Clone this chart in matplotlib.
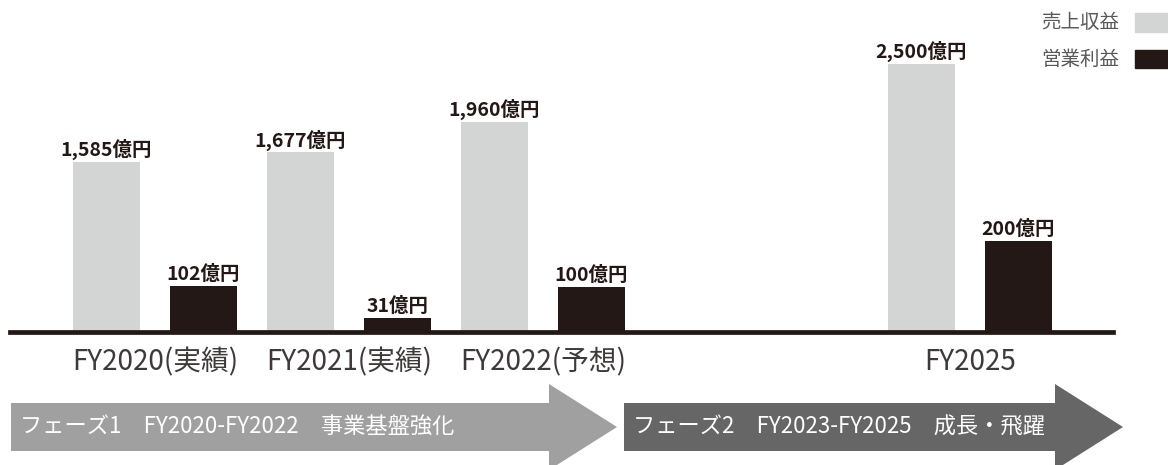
import matplotlib
matplotlib.use("Agg")
import matplotlib.pyplot as plt
from matplotlib.patches import Polygon, Rectangle

plt.rcParams['font.family'] = ['Noto Sans CJK JP', 'DejaVu Sans']

# data
years = ["FY2020(実績)", "FY2021(実績)", "FY2022(予想)", "FY2025"]
positions = [0, 1, 2, 4.2]
revenue = [1585, 1677, 1960, 2500]
profit = [102, 31, 100, 200]
series_names = ["売上収益", "営業利益"]
phases = ["フェーズ1　FY2020-FY2022　事業基盤強化", "フェーズ2　FY2023-FY2025　成長・飛躍"]

c_rev = "#d3d4d4"
c_prof = "#231815"
c_text = "#3e3a39"

W, H = 1168, 465
fig = plt.figure(figsize=(W / 100, H / 100), dpi=100)

# main axes: baseline at y=332px, x scale 194px per group
base = 332
ax = fig.add_axes([0, (H - base) / H, 1, base / H])
ax2 = ax.twinx()
ax.set_xlim(-155 / 194, (W - 155) / 194)
ax.set_ylim(0, 3100)
ax2.set_ylim(0, 733)

bw = 67 / 194
off = 48.5 / 194
xr = [p - off for p in positions]
xp = [p + off for p in positions]
ax.bar(xr, revenue, width=bw, color=c_rev, zorder=2)
ax2.bar(xp, profit, width=bw, color=c_prof, zorder=2)

for x, v in zip(xr, revenue):
    ax.annotate(f"{v:,}億円", (x, v), xytext=(0, 4.3), textcoords="offset points",
                ha="center", va="baseline", fontsize=14, fontweight="bold", color=c_prof)
for x, v in zip(xp, profit):
    ax2.annotate(f"{v:,}億円", (x, v), xytext=(0, 4.3), textcoords="offset points",
                 ha="center", va="baseline", fontsize=14, fontweight="bold", color=c_prof)

for p, lab in zip(positions, years):
    ax.annotate(lab, (p, 0), xytext=(0, -27.4), textcoords="offset points",
                ha="center", va="baseline", fontsize=20, color=c_text)

ax2.axhline(0, xmin=10 / W, xmax=1113 / W, color=c_prof, lw=3.4, clip_on=False, zorder=5)

for a in (ax, ax2):
    a.axis("off")

# overlay in pixel coordinates for legend and phase arrows
lay = fig.add_axes([0, 0, 1, 1], zorder=-1)
lay.set_xlim(0, W)
lay.set_ylim(H, 0)
lay.axis("off")

lay.text(1119, 22, series_names[0], ha="right", va="center", fontsize=14, color="#595757")
lay.text(1119, 59, series_names[1], ha="right", va="center", fontsize=14, color="#595757")
lay.add_patch(Rectangle((1135, 13), 40, 19, color=c_rev))
lay.add_patch(Rectangle((1135, 50), 40, 18, color=c_prof))

arrows = [(11, 549, 617, "#a0a0a0"), (624, 1055, 1123, "#666666")]
for (x0, xh, xt, col), label in zip(arrows, phases):
    pts = [(x0, 403), (xh, 403), (xh, 384), (xt, 427), (xh, 470), (xh, 451), (x0, 451)]
    lay.add_patch(Polygon(pts, closed=True, color=col, lw=0))
    lay.text(x0 + 9, 427, label, ha="left", va="center", fontsize=16, color="white")

fig.savefig("out.png", dpi=100)
